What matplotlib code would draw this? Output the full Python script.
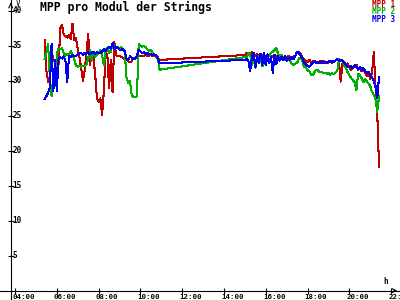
import matplotlib
matplotlib.use("Agg")
import matplotlib.pyplot as plt
import pandas as pd

# sampling times (5 min) of the two logged stretches, gap in between
TIMES_AM = pd.date_range("2020-01-01 05:25", "2020-01-01 10:55", freq="5min")
TIMES_PM = pd.date_range("2020-01-01 15:00", "2020-01-01 21:25", freq="5min")

MPP1_AM = [35.8, 31.5, 29.9, 30.2, 34.4, 33.0, 32.6, 33.2, 32.3, 37.5,
           38.0, 36.6, 36.4, 36.2, 36.5, 36.0, 38.2, 35.8, 36.1, 34.6,
           33.4, 31.8, 30.0, 31.5, 33.8, 36.7, 32.2, 33.9, 33.3, 31.0,
           27.6, 27.0, 27.5, 25.1, 28.5, 34.0, 33.8, 29.0, 33.0, 28.4,
           35.6, 33.7, 33.5, 33.6, 33.4, 33.3, 33.1, 33.2, 32.8, 32.7,
           32.8, 33.3, 33.2, 33.4, 33.5, 33.5, 33.6, 33.6, 33.7, 33.6,
           33.6, 33.7, 33.6, 33.5, 33.6, 33.4, 33.0]
MPP2_AM = [33.1, 34.0, 35.3, 30.5, 27.8, 29.5, 29.2, 33.8, 34.6, 34.5,
           34.7, 34.0, 33.6, 33.8, 33.7, 34.3, 33.8, 33.0, 32.2, 32.0,
           32.1, 32.0, 32.2, 32.1, 32.3, 33.2, 34.4, 33.0, 34.2, 33.4,
           33.8, 33.9, 34.4, 33.7, 32.2, 34.3, 34.8, 34.0, 34.2, 35.3,
           34.9, 34.7, 34.8, 34.6, 34.8, 34.5, 34.2, 30.5, 29.7, 30.0,
           28.0, 27.7, 27.7, 27.8, 35.3, 35.1, 34.9, 35.0, 34.8, 34.5,
           34.3, 34.4, 34.0, 33.8, 33.4, 33.3, 31.6]
MPP3_AM = [27.4, 27.8, 28.3, 29.0, 35.3, 28.5, 33.0, 28.6, 33.2, 33.4,
           33.2, 33.5, 32.8, 29.8, 33.6, 33.4, 33.7, 33.5, 33.6, 33.8,
           33.9, 34.0, 33.7, 34.0, 33.9, 34.1, 33.8, 34.0, 34.2, 33.9,
           34.1, 34.0, 34.0, 34.2, 34.5, 34.3, 34.6, 34.8, 34.6, 35.4,
           34.5, 34.9, 34.7, 34.5, 34.4, 34.6, 34.2, 33.2, 33.0, 33.5,
           33.3, 33.1, 33.2, 33.6, 34.4, 34.2, 34.0, 34.1, 33.9, 34.0,
           33.8, 33.8, 33.7, 33.8, 33.6, 33.1, 32.5]

MPP1_PM = [33.7, 34.0, 33.9, 33.6, 34.1, 33.7, 33.5, 33.8, 33.6, 33.9,
           33.5, 33.7, 33.4, 33.8, 33.5, 33.6, 33.4, 33.7, 33.5, 33.3,
           33.6, 33.4, 33.2, 33.5, 33.3, 33.6, 33.4, 33.2, 33.5, 33.6,
           34.1, 34.2, 33.8, 33.4, 33.0, 32.8, 32.7, 33.0, 32.6, 32.8,
           32.9, 32.7, 32.6, 32.8, 32.6, 32.9, 32.7, 32.5, 32.7, 32.9,
           32.6, 32.8, 32.9, 33.1, 32.8, 29.9, 32.5, 32.4, 32.2, 32.5,
           31.9, 31.6, 31.9, 32.2, 32.3, 31.6, 31.9, 31.4, 31.7, 31.2,
           30.7, 31.0, 30.2, 31.2, 34.1, 29.0, 25.2, 17.7]
MPP2_PM = [33.4, 33.2, 34.0, 33.8, 32.3, 33.0, 31.9, 33.1, 33.6, 33.3,
           32.1, 32.6, 33.4, 33.8, 33.6, 34.0, 34.2, 34.4, 34.7, 33.9,
           33.5, 33.7, 33.3, 33.0, 32.9, 33.1, 32.8, 32.4, 32.3, 32.5,
           32.6, 33.2, 33.3, 32.8, 32.0, 31.9, 31.5, 31.4, 30.9, 30.8,
           31.3, 31.6, 31.5, 31.2, 31.3, 31.1, 31.2, 31.0, 31.1, 30.9,
           31.1, 31.0, 31.2, 31.4, 33.1, 33.0, 32.8, 32.2, 31.8, 31.2,
           30.8, 30.4, 30.1, 29.8, 28.7, 31.0, 30.8, 30.4, 29.8, 30.3,
           29.9, 29.6, 29.2, 28.4, 28.0, 27.3, 25.6, 27.8]
MPP3_PM = [33.0, 33.1, 32.9, 31.4, 33.3, 34.0, 32.0, 33.6, 32.6, 33.9,
           32.3, 34.0, 32.2, 33.8, 32.6, 33.4, 31.1, 33.7, 32.4, 33.5,
           32.9, 33.4, 33.0, 33.5, 32.9, 33.3, 33.0, 33.4, 33.1, 33.6,
           34.2, 34.0, 33.6, 33.2, 32.6, 32.4, 32.1, 32.0, 32.3, 32.6,
           32.8, 32.5, 32.7, 32.6, 32.8, 32.5, 32.7, 32.6, 32.8, 32.7,
           32.9, 32.7, 32.9, 33.1, 32.8, 33.0, 32.9, 32.6, 32.3, 32.0,
           31.9, 32.1, 31.8, 32.2, 32.0, 31.7, 32.0, 31.6, 31.8, 31.4,
           31.1, 31.3, 30.8, 30.5, 29.9, 29.3, 27.6, 30.6]

SERIES = ["MPP 1", "MPP 2", "MPP 3"]
COLORS = ["#c00000", "#00b000", "#0000f0"]
XTICKS = [4, 6, 8, 10, 12, 14, 16, 18, 20, 22]
YTICKS = [5, 10, 15, 20, 25, 30, 35, 40]


def hours(ts):
    return [t.hour + t.minute / 60 for t in ts]


fig = plt.figure(figsize=(4, 3), dpi=100)
ax = fig.add_axes([0, 0, 1, 1])
ax.set_xlim(3.282, 22.42)
ax.set_ylim(-1.345, 41.57)
YAX = 3.794

t = hours(TIMES_AM) + hours(TIMES_PM)
data = [MPP1_AM + MPP1_PM, MPP2_AM + MPP2_PM, MPP3_AM + MPP3_PM]
for vals, c in zip(data, COLORS):
    ax.plot(t, vals, color=c, lw=0.75, antialiased=False)

for s in ("top", "right"):
    ax.spines[s].set_visible(False)
ax.spines["left"].set_position(("data", YAX))
ax.spines["bottom"].set_position(("data", 0))
ax.spines["left"].set_linewidth(0.8)
ax.spines["bottom"].set_linewidth(0.8)
ax.set_xticks(XTICKS)
ax.set_yticks(YTICKS)
ax.tick_params(direction="inout", length=5, width=0.8,
               labelbottom=False, labelleft=False)

mono = "DejaVu Sans Mono"
for h in XTICKS:
    ax.annotate(f"{h:02d}:00", (h, 0), xytext=(-3, -3), textcoords="offset pixels",
                ha="left", va="top", fontsize=5.3, family=mono, weight="bold")
for v in YTICKS:
    ax.annotate(str(v), (YAX, v), xytext=(2, 0), textcoords="offset pixels",
                ha="left", va="center", fontsize=5.5, family=mono, weight="bold")

# axis arrows and units
ax.annotate("", xy=(YAX, 41.57), xytext=(YAX, 40.5),
            arrowprops=dict(arrowstyle="->", lw=0.8, mutation_scale=7))
ax.annotate("", xy=(22.42, 0), xytext=(22.0, 0),
            arrowprops=dict(arrowstyle="->", lw=0.8, mutation_scale=7))
fig.text(15.5 / 400, 1 - 3 / 300, "V", fontsize=5.5, family=mono, ha="left", va="center")
fig.text(386 / 400, 1 - 281 / 300, "h", fontsize=5.5, family=mono, weight="bold",
         ha="center", va="center")

fig.text(40 / 400, 1 - 7.5 / 300, "MPP pro Modul der Strings", fontsize=8.3,
         family=mono, weight="bold", ha="left", va="center")
for i, (name, c) in enumerate(zip(SERIES, COLORS)):
    fig.text(395 / 400, 1 - (4.5 + 7.5 * i) / 300, name, color=c, fontsize=5.5,
             family=mono, weight="bold", ha="right", va="center")

fig.savefig("out.png", dpi=100)
